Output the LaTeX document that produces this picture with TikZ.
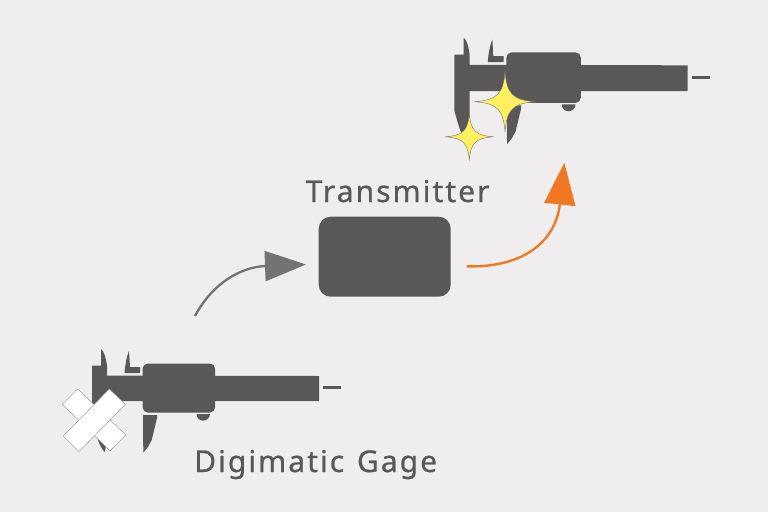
\documentclass[tikz,border=0pt]{standalone}
\usepackage{fontspec}
\setmainfont{Noto Sans}[LetterSpace=6.8,FakeBold=0.7,WordSpace=1.3]
\usetikzlibrary{arrows.meta}
\definecolor{bgc}{HTML}{EFEDEE}
\definecolor{bodyc}{HTML}{595757}
\definecolor{grayarrow}{HTML}{737373}
\definecolor{orangearrow}{HTML}{F07823}
\definecolor{sparkc}{HTML}{FFF05F}
\tikzset{
  gagepart/.style={fill=bodyc,draw=none},
  strip/.style={fill=white,draw=black!45,line width=0.4pt,line join=round},
  spark/.style={fill=sparkc,draw=black!55,line width=0.4pt,line join=round},
  lbl/.style={text=bodyc,font=\fontsize{30}{32}\selectfont,inner sep=0pt,anchor=base west},
  boxstyle/.style={fill=bodyc,draw=none,rounded corners=12pt,minimum width=132pt,minimum height=80pt,inner sep=0pt},
  grayconn/.style={draw=grayarrow,line width=2.3pt,-{Triangle[length=41pt,width=30pt,fill=grayarrow]}},
  orangeconn/.style={draw=orangearrow,line width=2.4pt,-{Triangle[length=42pt,width=31pt,fill=orangearrow]}},
  pics/gage/.style={code={
    % beam and fixed jaw
    \fill[gagepart] (92,365.5) -- (101,365.5) -- (101,349) .. controls (104,351) and (106,358) .. (107,366) -- (107,375.5) -- (319,376) -- (319,401) -- (107,401) -- (107,423)
      .. controls (107,435) and (106,445) .. (105,452) .. controls (100,448) and (97,438) .. (92,420) -- cycle;
    % upper sliding jaw
    \fill[gagepart] (129,351) .. controls (127,355) and (125,365) .. (124.5,373) -- (140,373) -- (140,367) -- (130,367) -- cycle;
    % head
    \fill[gagepart,rounded corners=5pt] (142.7,363.5) rectangle (215,412.5);
    % lower sliding jaw
    \fill[gagepart] (143,415) -- (157,415) -- (157,418) -- (151.7,440) -- (148,447) -- (143.3,452.7) -- cycle;
    % thumb wheel
    \fill[gagepart] (196.5,414) arc[start angle=180,end angle=0,radius=6.7] -- cycle;
    % scale end mark
    \draw[bodyc,line width=2.6pt] (323.3,387.7) -- (340.7,387.7);
  }}
}
\newcommand{\sparkle}[4]{% cx cy half-width half-height
  \path[spark] (#1-#3,#2) .. controls (#1-#3*0.26,#2-#4*0.05) and (#1-#3*0.05,#2-#4*0.26) .. (#1,#2-#4)
   .. controls (#1+#3*0.05,#2-#4*0.26) and (#1+#3*0.26,#2-#4*0.05) .. (#1+#3,#2)
   .. controls (#1+#3*0.26,#2+#4*0.05) and (#1+#3*0.05,#2+#4*0.26) .. (#1,#2+#4)
   .. controls (#1-#3*0.05,#2+#4*0.26) and (#1-#3*0.26,#2+#4*0.05) .. cycle;}
\begin{document}
\begin{tikzpicture}[x=1pt,y=-1pt]
\useasboundingbox (0,0) rectangle (768,512);
\fill[bgc] (0,0) rectangle (768,512);

% lower gauge
\pic at (0,0) {gage};
\path[strip] (77.7,389) -- (126,435) -- (110,450.7) -- (62.3,404.3) -- cycle;
\path[strip] (109.3,389) -- (125.3,404.3) -- (79,451.7) -- (63.3,436) -- cycle;

% upper gauge
\begin{scope}[shift={(362.3,-311)}]
\begin{scope}[shift={(92,365)},scale=1.028,shift={(-92,-365)}]
\pic[transform shape] at (0,0) {gage};
\end{scope}
\end{scope}
\sparkle{505}{101.7}{30.5}{30.5}
\sparkle{469.3}{136.8}{24.3}{23.7}

% transmitter
\node[boxstyle] (tx) at (384.7,256.7) {};
\node[lbl] (txl) at (305.5,202) {Transmitter};
\node[lbl] (gl) at (194,472) {Digimatic Gage};

% connectors
\coordinate (gs) at (195,316);
\coordinate (ge) at (306,264.5);
\coordinate (os) at (466.7,266.3);
\coordinate (oe) at (564.3,162.7);
\draw[grayconn] (gs) .. controls (212,284) and (240,267) .. (ge);
\draw[orangeconn] (os) .. controls (525,268) and (556,240) .. (oe);
\end{tikzpicture}
\end{document}
